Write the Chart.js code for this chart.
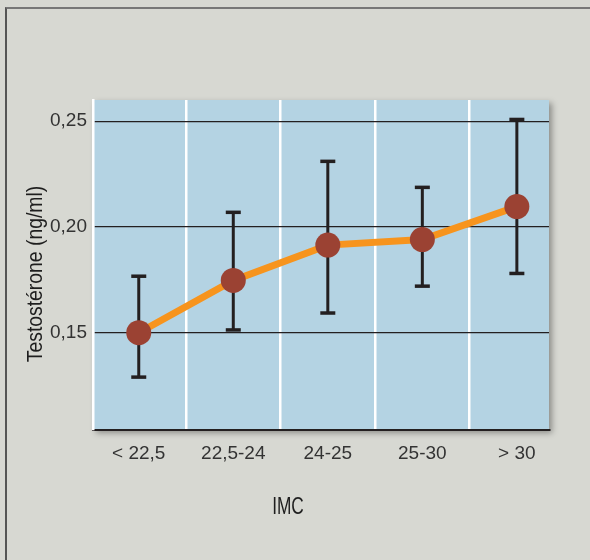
<!DOCTYPE html>
<html><head><meta charset="utf-8">
<script src="https://cdn.jsdelivr.net/npm/chart.js@4"></script>
<style>
html,body{margin:0;padding:0;background:#d7d8d2;}
#wrap{position:relative;width:590px;height:560px;overflow:hidden;}
#frame{position:absolute;left:5px;top:7px;width:640px;height:640px;border-top:2px solid #777;border-left:2px solid #555;box-sizing:border-box;}
canvas{position:absolute;left:0;top:0;}
</style></head><body>
<div id="wrap"><div id="frame"></div><canvas id="c" width="590" height="560"></canvas></div>
<script>
const categories = ['< 22,5', '22,5-24', '24-25', '25-30', '> 30'];
const means = [0.150, 0.1747, 0.1914, 0.194, 0.2096];
const lower = [0.129, 0.1513, 0.1593, 0.172, 0.178];
const upper = [0.1767, 0.2069, 0.231, 0.2187, 0.2508];
const yTicks = [0.15, 0.20, 0.25];
const yTitle = 'Testostérone (ng/ml)';
const xTitle = 'IMC';

const errorSets = categories.map((c, i) => ({
  type: 'line',
  order: 2,
  data: [{x: i, y: lower[i]}, {x: i, y: upper[i]}],
  borderColor: '#231f20',
  borderWidth: 3,
  pointStyle: 'line',
  pointRadius: 7.5,
  pointHoverRadius: 7.5,
  pointBorderWidth: 3.5,
  pointBorderColor: '#231f20',
  pointBackgroundColor: '#231f20'
}));

const bgPlugin = {
  id: 'plotBg',
  beforeDraw(chart) {
    const {ctx, chartArea: a} = chart;
    ctx.save();
    ctx.shadowColor = 'rgba(0,0,0,0.35)';
    ctx.shadowBlur = 6;
    ctx.shadowOffsetX = 3;
    ctx.shadowOffsetY = 3;
    ctx.fillStyle = '#b4d3e3';
    ctx.fillRect(a.left, a.top, a.right - a.left, a.bottom - a.top);
    ctx.restore();
  }
};
const titlesPlugin = {
  id: 'axisTitles',
  afterDraw(chart) {
    const {ctx} = chart;
    ctx.save();
    ctx.fillStyle = '#1e1e1e';
    ctx.textAlign = 'center';
    ctx.textBaseline = 'middle';
    ctx.save();
    ctx.translate(288, 507);
    ctx.scale(0.72, 1);
    ctx.font = '24px "Liberation Sans", Arial, sans-serif';
    ctx.fillText(xTitle, 0, 0);
    ctx.restore();
    ctx.save();
    ctx.translate(36, 274);
    ctx.rotate(-Math.PI / 2);
    ctx.scale(0.88, 1);
    ctx.font = '22px "Liberation Sans", Arial, sans-serif';
    ctx.fillText(yTitle, 0, 0);
    ctx.restore();
    ctx.restore();
  }
};

new Chart(document.getElementById('c'), {
  type: 'line',
  data: {
    datasets: [{
      order: 0,
      data: means.map((v, i) => ({x: i, y: v})),
      borderColor: '#f7941d',
      borderWidth: 7,
      tension: 0,
      pointRadius: 12.5,
      pointHoverRadius: 12.5,
      pointBorderWidth: 0,
      pointBackgroundColor: '#9b4233'
    }, ...errorSets]
  },
  options: {
    responsive: false,
    animation: false,
    events: [],
    devicePixelRatio: 1,
    layout: {padding: {left: 0, top: 100, right: 41, bottom: 0}},
    plugins: {legend: {display: false}, tooltip: {enabled: false}},
    scales: {
      x: {
        type: 'linear',
        min: -0.484,
        max: 4.34,
        afterFit(s) { s.height = 130; },
        afterBuildTicks(s) { s.ticks = [0, 0.5, 1, 1.5, 2, 2.5, 3, 3.5, 4].map(v => ({value: v})); },
        ticks: {
          autoSkip: false, maxRotation: 0, padding: 12,
          color: '#333',
          font: {family: '"Liberation Sans", Arial, sans-serif', size: 19},
          callback: (v) => Number.isInteger(v) ? categories[v] : ''
        },
        grid: {
          drawTicks: false,
          color: (ctx) => (ctx.tick && !Number.isInteger(ctx.tick.value)) ? '#ffffff' : 'rgba(0,0,0,0)',
          lineWidth: 2.5
        },
        border: {display: true, color: '#231f20', width: 2}
      },
      y: {
        min: 0.104,
        max: 0.26,
        afterFit(s) { s.width = 93; },
        afterBuildTicks(s) { s.ticks = yTicks.map(v => ({value: v})); },
        ticks: {
          padding: 6,
          color: '#333',
          font: {family: '"Liberation Sans", Arial, sans-serif', size: 19},
          callback: (v) => v.toFixed(2).replace('.', ',')
        },
        grid: {drawTicks: false, color: '#231f20', lineWidth: 1.3},
        border: {display: true, color: '#ffffff', width: 2.5},
        title: {display: false}
      }
    }
  },
  plugins: [bgPlugin, titlesPlugin]
});
</script>
</body></html>
